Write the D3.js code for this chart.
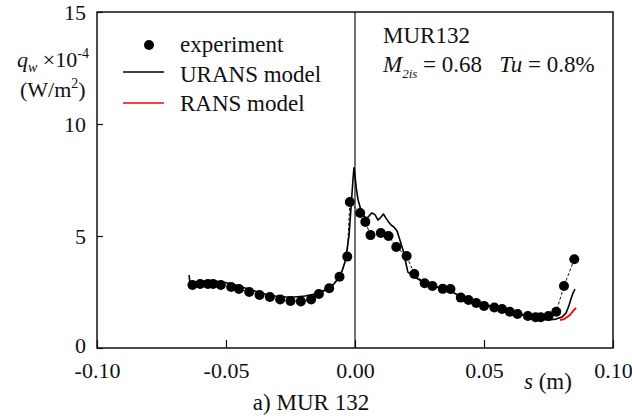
<!DOCTYPE html>
<html>
<head>
<meta charset="utf-8">
<script src="https://cdn.jsdelivr.net/npm/d3@7"></script>
<style>
  html, body { margin: 0; padding: 0; background: #fff; }
  svg { display: block; }
  svg text { font-family: "Liberation Serif", "Times New Roman", serif; }
</style>
</head>
<body>
<svg id="chart" width="632" height="419"></svg>
<script>
// Wall heat flux along the blade surface, MUR132 cascade
const expS = [-0.063, -0.060, -0.057, -0.055, -0.052, -0.048, -0.045, -0.041, -0.037, -0.033,
  -0.029, -0.025, -0.021, -0.017, -0.014, -0.010, -0.006, -0.003, -0.002, 0.002,
  0.004, 0.006, 0.010, 0.013, 0.016, 0.020, 0.023, 0.027, 0.030, 0.034,
  0.037, 0.041, 0.044, 0.047, 0.050, 0.054, 0.057, 0.060, 0.063, 0.067,
  0.070, 0.072, 0.075, 0.078, 0.081, 0.085];
const expQ = [2.81, 2.86, 2.86, 2.86, 2.81, 2.72, 2.63, 2.50, 2.37, 2.28,
  2.17, 2.10, 2.08, 2.17, 2.41, 2.67, 3.18, 4.08, 6.52, 6.03,
  5.63, 5.04, 5.13, 5.00, 4.51, 4.11, 3.30, 2.89, 2.77, 2.64,
  2.63, 2.25, 2.14, 2.01, 1.88, 1.81, 1.74, 1.62, 1.52, 1.43,
  1.37, 1.37, 1.43, 1.62, 2.77, 3.96];

const uransS = [-0.0643, -0.0640, -0.0616, -0.0581, -0.0543, -0.0504, -0.0465, -0.0426, -0.0388, -0.0349,
  -0.0310, -0.0271, -0.0233, -0.0194, -0.0155, -0.0116, -0.0085, -0.0066, -0.0050, -0.0039,
  -0.0031, -0.0023, -0.0016, -0.0008, -0.0004, 0.0000, 0.0006, 0.0012, 0.0023, 0.0035,
  0.0047, 0.0058, 0.0066, 0.0078, 0.0089, 0.0101, 0.0110, 0.0120, 0.0130, 0.0140,
  0.0151, 0.0163, 0.0174, 0.0186, 0.0198, 0.0205, 0.0221, 0.0244, 0.0271, 0.0298,
  0.0329, 0.0368, 0.0407, 0.0446, 0.0484, 0.0523, 0.0562, 0.0601, 0.0640, 0.0678,
  0.0717, 0.0748, 0.0779, 0.0802, 0.0818, 0.0829, 0.0837, 0.0845, 0.0853];
const uransQ = [3.26, 2.90, 2.95, 2.99, 2.99, 2.92, 2.81, 2.68, 2.54, 2.41,
  2.32, 2.28, 2.28, 2.32, 2.41, 2.59, 2.81, 3.08, 3.44, 3.84,
  4.38, 5.04, 6.16, 7.50, 8.04, 7.68, 7.05, 6.61, 6.16, 5.89,
  5.80, 5.94, 6.03, 5.94, 5.71, 5.85, 5.98, 5.80, 5.63, 5.49,
  5.40, 5.22, 4.82, 4.38, 3.75, 3.39, 3.26, 3.08, 2.90, 2.81,
  2.68, 2.54, 2.32, 2.14, 2.01, 1.88, 1.79, 1.65, 1.52, 1.38,
  1.29, 1.25, 1.29, 1.38, 1.56, 1.88, 2.19, 2.46, 2.63];

const ransS = [0.0795, 0.0810, 0.0822, 0.0833, 0.0845, 0.0857];
const ransQ = [1.25, 1.29, 1.38, 1.47, 1.65, 1.79];

const xTicks = [-0.10, -0.05, 0.00, 0.05, 0.10];
const xTickLabels = ["-0.10", "-0.05", "0.00", "0.05", "0.10"];
const yTicks = [0, 5, 10, 15];
const yTickLabels = ["0", "5", "10", "15"];

const svg = d3.select("#chart");
const m = { left: 97, right: 613, top: 12, bottom: 348 };

const x = d3.scaleLinear().domain([-0.10, 0.10]).range([m.left, m.right]);
const y = d3.scaleLinear().domain([0, 15]).range([m.bottom, m.top]);

const ink = "#111";
const serif = "Liberation Serif, Times New Roman, serif";

// x axis: inward ticks, labels below the frame
const gx = svg.append("g")
  .attr("transform", `translate(0,${m.bottom})`)
  .call(d3.axisBottom(x).tickValues(xTicks).tickSize(-8).tickPadding(14)
    .tickFormat((d, i) => xTickLabels[i]));
gx.attr("font-family", serif);
gx.select(".domain").remove();
gx.selectAll(".tick line").attr("stroke", ink).attr("stroke-width", 1.2);
gx.selectAll(".tick text").attr("fill", ink).attr("font-size", 22);

// y axis
const gy = svg.append("g")
  .attr("transform", `translate(${m.left},0)`)
  .call(d3.axisLeft(y).tickValues(yTicks).tickSize(-6).tickPadding(11)
    .tickFormat((d, i) => yTickLabels[i]));
gy.attr("font-family", serif);
gy.select(".domain").remove();
gy.selectAll(".tick line").attr("stroke", ink).attr("stroke-width", 1.2);
gy.selectAll(".tick text").attr("fill", ink).attr("font-size", 22);
// the zero label sits a little higher so it clears the x labels
gy.selectAll(".tick text").filter(d => d === 0).attr("dy", "0.2em");

// vertical reference line at the stagnation point
svg.append("line")
  .attr("x1", x(0)).attr("x2", x(0))
  .attr("y1", y(15)).attr("y2", y(0))
  .attr("stroke", ink).attr("stroke-width", 1.2);

// frame
svg.append("rect")
  .attr("x", m.left).attr("y", m.top)
  .attr("width", m.right - m.left).attr("height", m.bottom - m.top)
  .attr("fill", "none").attr("stroke", ink).attr("stroke-width", 1.5);

const line = d3.line().x(d => x(d[0])).y(d => y(d[1]));

const expData = expS.map((s, i) => [s, expQ[i]]);
const uransData = uransS.map((s, i) => [s, uransQ[i]]);
const ransData = ransS.map((s, i) => [s, ransQ[i]]);

// experiment: thin dashed connector
svg.append("path").datum(expData)
  .attr("d", line).attr("fill", "none")
  .attr("stroke", ink).attr("stroke-width", 1).attr("stroke-dasharray", "3,2");

// URANS
svg.append("path").datum(uransData)
  .attr("d", line).attr("fill", "none")
  .attr("stroke", "#000").attr("stroke-width", 1.6).attr("stroke-linejoin", "round");

// experiment markers
svg.append("g").selectAll("circle").data(expData).join("circle")
  .attr("cx", d => x(d[0])).attr("cy", d => y(d[1])).attr("r", 5)
  .attr("fill", "#000");

// RANS
svg.append("path").datum(ransData)
  .attr("d", line).attr("fill", "none")
  .attr("stroke", "#ff0000").attr("stroke-width", 1.8);

// legend
const lg = svg.append("g").attr("font-size", 23).attr("fill", ink);
lg.append("circle").attr("cx", 149).attr("cy", 45).attr("r", 5).attr("fill", "#000");
lg.append("text").attr("x", 180).attr("y", 52).text("experiment");
lg.append("line").attr("x1", 123).attr("x2", 164).attr("y1", 72).attr("y2", 72)
  .attr("stroke", "#000").attr("stroke-width", 1.6);
lg.append("text").attr("x", 180).attr("y", 82).text("URANS model");
lg.append("line").attr("x1", 123).attr("x2", 164).attr("y1", 103).attr("y2", 103)
  .attr("stroke", "#ff0000").attr("stroke-width", 1.6);
lg.append("text").attr("x", 180).attr("y", 111).text("RANS model");

// case annotation
const an = svg.append("g").attr("font-size", 23).attr("fill", ink);
an.append("text").attr("x", 383).attr("y", 43).text("MUR132");
const t2 = an.append("text").attr("x", 383).attr("y", 72);
t2.append("tspan").attr("font-style", "italic").text("M");
t2.append("tspan").attr("font-style", "italic").attr("font-size", 13).attr("dy", 6).text("2is");
t2.append("tspan").attr("dy", -6).text("\u00a0= 0.68\u00a0\u00a0\u00a0");
t2.append("tspan").attr("font-style", "italic").text("Tu");
t2.append("tspan").text("\u00a0= 0.8%");

// y-axis title
const yt = svg.append("g").attr("font-size", 22).attr("fill", ink);
const yt1 = yt.append("text").attr("x", 17).attr("y", 67);
yt1.append("tspan").attr("font-style", "italic").text("q");
yt1.append("tspan").attr("font-style", "italic").attr("font-size", 14).attr("dy", 5).text("w");
yt1.append("tspan").attr("dy", -5).text("\u00a0×10");
yt1.append("tspan").attr("font-size", 14).attr("dy", -9).text("-4");
const yt2 = yt.append("text").attr("x", 20).attr("y", 97);
yt2.append("tspan").text("(W/m");
yt2.append("tspan").attr("font-size", 14).attr("dy", -9).text("2");
yt2.append("tspan").attr("dy", 9).text(")");

// x-axis title
const xt = svg.append("text").attr("x", 524).attr("y", 389).attr("font-size", 23).attr("fill", ink);
xt.append("tspan").attr("font-style", "italic").text("s");
xt.append("tspan").text("\u00a0(m)");

// caption
svg.append("text").attr("x", 311).attr("y", 410).attr("text-anchor", "middle")
  .attr("font-size", 23).attr("fill", ink).text("a) MUR 132");
</script>
</body>
</html>
